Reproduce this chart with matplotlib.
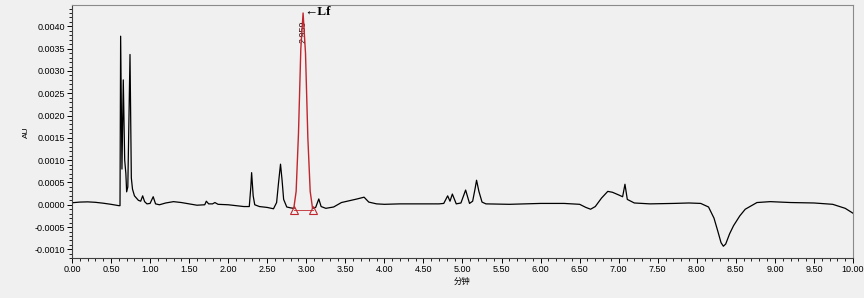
import matplotlib
matplotlib.use("Agg")
import matplotlib.pyplot as plt
import numpy as np
from matplotlib.ticker import MultipleLocator, FormatStrFormatter

# chromatogram trace (minutes, AU)
time_min = [
    0.00, 0.10, 0.20, 0.30, 0.40, 0.50, 0.60, 0.615, 0.623, 0.640,
    0.657, 0.675, 0.690, 0.700, 0.715, 0.743, 0.760, 0.775, 0.80, 0.85,
    0.88, 0.905, 0.93, 0.96, 1.00, 1.04, 1.07, 1.12, 1.20, 1.30,
    1.40, 1.50, 1.60, 1.70, 1.72, 1.75, 1.80, 1.83, 1.87, 2.00,
    2.10, 2.20, 2.27, 2.29, 2.30, 2.32, 2.34, 2.40, 2.50, 2.58,
    2.62, 2.645, 2.67, 2.69, 2.71, 2.75, 2.80,
    2.84, 2.87, 2.90, 2.93, 2.959, 2.99, 3.02, 3.05, 3.08,
    3.12, 3.16, 3.19, 3.25, 3.35, 3.45, 3.55, 3.65, 3.74, 3.80,
    3.90, 4.00, 4.20, 4.50, 4.70, 4.76, 4.81, 4.84, 4.87, 4.92,
    4.98, 5.04, 5.09, 5.13, 5.16, 5.18, 5.21, 5.25, 5.30, 5.60,
    6.00, 6.30, 6.50, 6.58, 6.64, 6.70, 6.78, 6.86, 6.92, 7.00,
    7.05, 7.08, 7.11, 7.20, 7.40, 7.70, 7.90, 8.05, 8.15, 8.22,
    8.27, 8.31, 8.34, 8.37, 8.42, 8.47, 8.55, 8.62, 8.68, 8.77,
    8.94, 9.20, 9.50, 9.74, 9.90, 10.00,
]
au = [
    0.000045, 0.000060, 0.000065, 0.000055, 0.000035, 0.000010, -0.000020, -0.000020, 0.00378, 0.00080,
    0.00280, 0.00100, 0.00070, 0.00029, 0.00040, 0.00337, 0.00060, 0.00035, 0.00020, 0.00010,
    0.00008, 0.00020, 0.00007, 0.00002, 0.00003, 0.00018, 0.00002, 0.00000, 0.00004, 0.00007,
    0.00005, 0.00002, -0.00001, 0.00000, 0.00008, 0.00002, 0.00002, 0.00005, 0.00001, 0.00000,
    -0.00002, -0.00004, -0.00004, 0.00040, 0.00072, 0.00020, 0.00000, -0.00004, -0.00006, -0.00009,
    0.00005, 0.00050, 0.00091, 0.00055, 0.00012, -0.00005, -0.00007,
    -0.00008, 0.00030, 0.00160, 0.00350, 0.00430, 0.00340, 0.00150, 0.00030, -0.00008,
    -0.00006, 0.00013, -0.00004, -0.00008, -0.00005, 0.00005, 0.00009, 0.00013, 0.00017, 0.00006,
    0.00002, 0.00001, 0.00002, 0.00002, 0.00002, 0.00003, 0.00020, 0.00008, 0.00024, 0.00002,
    0.00004, 0.00033, 0.00003, 0.00008, 0.00035, 0.00055, 0.00030, 0.00006, 0.00002, 0.00001,
    0.00003, 0.00003, 0.00001, -0.00006, -0.00010, -0.00004, 0.00015, 0.00030, 0.00028, 0.00022,
    0.00018, 0.00046, 0.00012, 0.00004, 0.00002, 0.00003, 0.00004, 0.00003, -0.00005, -0.00030,
    -0.00060, -0.00085, -0.00093, -0.00088, -0.00065, -0.00047, -0.00025, -0.00010, -0.00004, 0.00005,
    0.00007, 0.00005, 0.00004, 0.00001, -0.00008, -0.00019,
]

# integrated peak
peak_name = "Lf"
peak_rt = 2.959
peak_start, peak_end = 2.84, 3.08
baseline_au = -0.00012

t = np.array(time_min)
y = np.array(au)
in_peak = (t >= peak_start) & (t <= peak_end)
first = np.argmax(in_peak)
last = len(t) - np.argmax(in_peak[::-1]) - 1

bg = "#f0f0f0"
red = "#c0262d"

fig = plt.figure(figsize=(8.64, 2.98), dpi=100, facecolor=bg)
ax = fig.add_axes([0.0833, 0.133, 0.904, 0.850], facecolor=bg)

ax.plot(t[: first + 1], y[: first + 1], color="black", lw=0.9)
ax.plot(t[last:], y[last:], color="black", lw=0.9)

ax.text(peak_rt, 0.00387, f"{peak_rt:.3f}", rotation=90, ha="center", va="center",
        fontsize=6.5, color="#2a1010", family=["Liberation Sans", "DejaVu Sans"])
ax.plot(t[first : last + 1], y[first : last + 1], color=red, lw=1.0, zorder=3)
ax.plot([peak_start, peak_end], [baseline_au, baseline_au], color=red, lw=0.6)
ax.plot([peak_start, peak_end], [baseline_au, baseline_au], ls="none", marker="^",
        ms=6, mfc="none", mec=red, mew=0.8)
ax.text(2.98, 0.00432, "\u2190" + peak_name, ha="left", va="center", fontsize=9.5,
        fontweight="bold", family=["Liberation Serif", "DejaVu Serif"])

ax.set_xlim(0, 10)
ax.set_ylim(-0.001202, 0.004478)
ax.xaxis.set_major_locator(MultipleLocator(0.5))
ax.xaxis.set_minor_locator(MultipleLocator(0.1))
ax.yaxis.set_major_locator(MultipleLocator(0.0005))
ax.yaxis.set_minor_locator(MultipleLocator(0.0001))
ax.xaxis.set_major_formatter(FormatStrFormatter("%.2f"))
ax.yaxis.set_major_formatter(FormatStrFormatter("%.4f"))
ax.tick_params(which="major", length=3.5, width=0.7, labelsize=6.5, pad=1.5)
ax.tick_params(which="minor", length=2, width=0.6)
for lab in ax.get_xticklabels() + ax.get_yticklabels():
    lab.set_family(["Liberation Sans", "DejaVu Sans"])

for side in ["left", "bottom"]:
    ax.spines[side].set_color("#404040")
    ax.spines[side].set_linewidth(0.8)
for side in ["top", "right"]:
    ax.spines[side].set_color("#8a8a8a")
    ax.spines[side].set_linewidth(0.8)

ax.set_ylabel("AU", fontsize=6, family=["Liberation Sans", "DejaVu Sans"], labelpad=3)
ax.set_xlabel("分钟", fontsize=6, family=["Noto Sans CJK SC", "DejaVu Sans"], labelpad=1.5)

fig.savefig("out.png", dpi=100, facecolor=bg)
